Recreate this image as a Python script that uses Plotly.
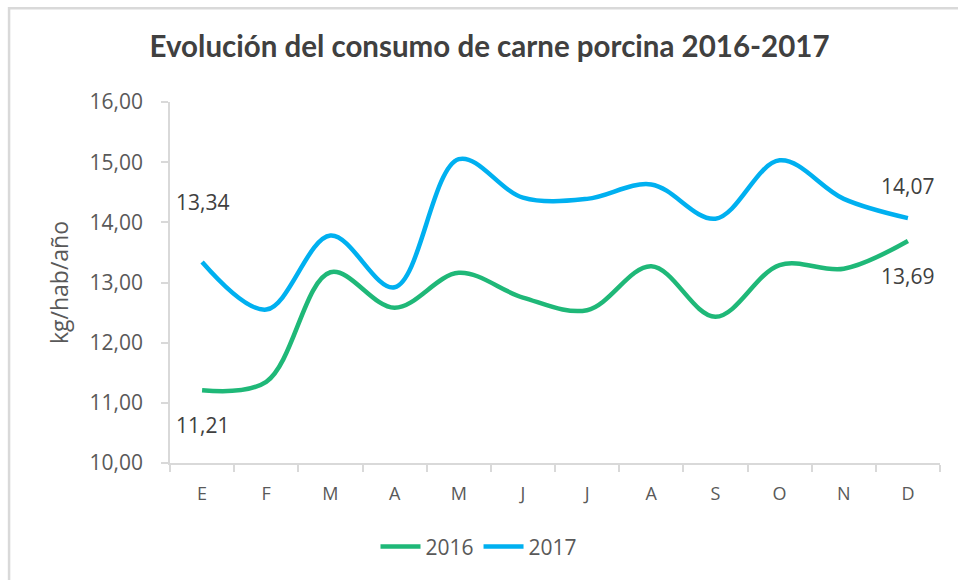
import plotly.graph_objects as go

months = ["E", "F", "M", "A", "M", "J", "J", "A", "S", "O", "N", "D"]
v2016 = [11.21, 11.35, 13.17, 12.58, 13.16, 12.75, 12.54, 13.27, 12.43, 13.29, 13.23, 13.69]
v2017 = [13.34, 12.55, 13.78, 12.92, 15.05, 14.41, 14.39, 14.63, 14.06, 15.03, 14.39, 14.07]
series_names = ["2016", "2017"]
y_ticks = [10, 11, 12, 13, 14, 15, 16]

GREEN = "#1FB878"
BLUE = "#00B0F0"
TXT = "#595959"
FONT = "Open Sans, Liberation Sans, sans-serif"

x = list(range(len(months)))
bounds = [i - 0.5 for i in range(len(months) + 1)]

fig = go.Figure()
for name, vals, col in [(series_names[0], v2016, GREEN), (series_names[1], v2017, BLUE)]:
    fig.add_trace(go.Scatter(
        x=x, y=vals, name=name, mode="lines",
        line=dict(color=col, width=4.5, shape="spline", smoothing=1.0),
        hoverinfo="skip",
    ))

def fmt(v):
    return f"{v:.2f}".replace(".", ",")

ann = [
    (x[0], v2017[0], 60),
    (x[0], v2016[0], -35),
    (x[-1], v2017[-1], 32),
    (x[-1], v2016[-1], -35),
]
for xi, yi, ys in ann:
    fig.add_annotation(x=xi, y=yi, text=fmt(yi), showarrow=False, yshift=ys,
                       font=dict(family=FONT, size=21, color="#404040"))

fig.add_shape(type="rect", xref="paper", yref="paper",
              x0=-0.209, x1=1.3, y0=-0.6, y1=1.26,
              line=dict(color="#D9D9D9", width=2.5), fillcolor="rgba(0,0,0,0)", layer="below")

fig.update_layout(
    width=958, height=580,
    margin=dict(l=170, r=18, t=102, b=117, autoexpand=False),
    paper_bgcolor="white", plot_bgcolor="white",
    separators=",.",
    title=dict(text="<b>Evolución del consumo de carne porcina 2016-2017</b>",
               x=0.511, xref="container", xanchor="center", y=0.919, yanchor="middle",
               font=dict(family="Lato, Open Sans, sans-serif", size=29.5, color="#404040")),
    showlegend=True,
    legend=dict(orientation="h", x=0.5, xanchor="center", xref="container",
                y=0.057, yanchor="middle", yref="container",
                font=dict(family=FONT, size=21, color=TXT), itemwidth=40,
                traceorder="normal"),
    xaxis=dict(
        range=[-0.5, len(months) - 0.5],
        tickvals=x, ticktext=months, ticks="", ticklen=0,
        ticklabelstandoff=14,
        showgrid=False, zeroline=False,
        showline=True, linecolor="#D9D9D9", linewidth=1.5,
        tickfont=dict(family=FONT, size=18, color=TXT),
        minor=dict(tickvals=bounds, ticks="outside", ticklen=7, tickcolor="#D9D9D9", tickwidth=1.5),
    ),
    yaxis=dict(
        range=[y_ticks[0], y_ticks[-1]],
        tickvals=y_ticks, tickformat=".2f",
        ticks="outside", ticklen=7, tickcolor="#D9D9D9", tickwidth=1.5,
        ticklabelstandoff=14,
        showgrid=False, zeroline=False,
        showline=True, linecolor="#D9D9D9", linewidth=1.5,
        tickfont=dict(family=FONT, size=21, color=TXT),
        title=dict(text="kg/hab/año", font=dict(family=FONT, size=23, color=TXT), standoff=15),
    ),
)

fig.write_html("out.html", config={"displayModeBar": False},
               post_script="document.body.style.margin='0';")
